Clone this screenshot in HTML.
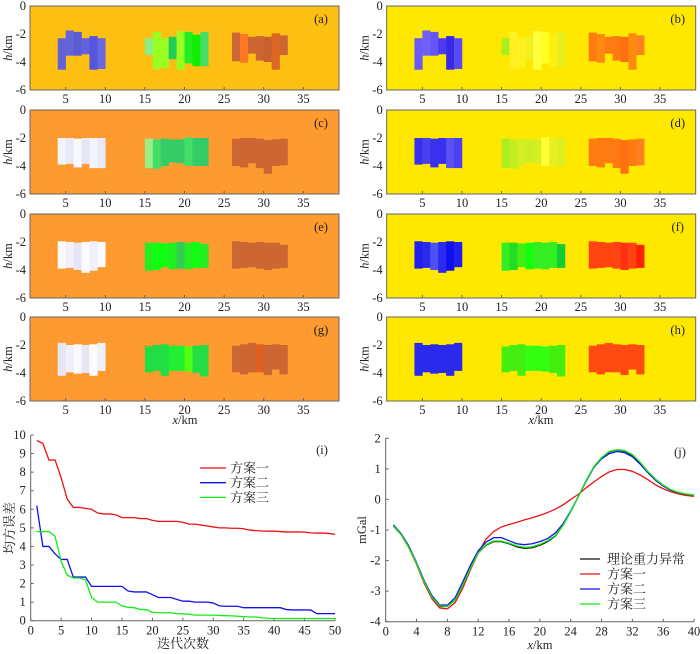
<!DOCTYPE html>
<html><head><meta charset="utf-8"><style>
html,body{margin:0;padding:0;background:#fff}
svg{display:block}
text{font-family:"Liberation Serif","Noto Serif CJK SC",serif;font-size:12.5px;fill:#222}
</style></head><body>
<svg id="fig" width="700" height="654" viewBox="0 0 700 654" xmlns="http://www.w3.org/2000/svg"></svg>
<script>
// ---------- data ----------
const colEdgesG1 = [4,5,6,7,8,9,10];
const colEdgesG2 = [15,16,17,18,19,20,21,22,23];
const colEdgesG3 = [26,27,28,29,30,31,32,33];
const topsAB = [2.3,1.75,1.85,2.3,2.15,2.3, 2.3,1.85,2.3,2.2,1.8,1.85,2.05,1.85, 1.9,2.0,2.2,2.15,2.2,1.95,2.1];
const botsAB = [4.55,3.55,3.55,3.45,4.55,4.5, 3.5,4.5,4.4,3.8,4.55,4.1,4.3,4.3, 3.95,4.05,3.4,3.9,4.0,4.55,3.5];
const topsCD = [2.0,2.0,2.05,2.0,2.0,2.0, 2.05,2.1,2.05,2.1,2.1,1.95,2.0,2.0, 2.05,2.0,2.0,2.05,2.15,2.1,2.05];
const botsCD = [3.9,3.85,4.1,3.85,4.15,4.15, 4.15,4.2,4.0,3.75,3.8,4.0,4.0,4.0, 4.0,4.1,3.8,4.15,4.55,4.0,3.95];
const topsEF = [1.95,2.0,2.05,2.0,1.95,2.0, 2.05,2.05,2.1,2.05,2.0,2.05,2.0,2.15, 1.95,2.0,2.05,2.0,2.05,2.05,2.2];
const botsEF = [3.9,3.85,4.0,4.2,4.05,3.8, 4.05,4.0,3.8,3.95,3.9,3.95,3.85,3.85, 3.9,3.85,3.8,3.9,4.0,3.9,3.85];
const topsGH = [1.85,2.0,1.95,2.0,1.95,1.85, 2.1,2.0,1.95,2.05,2.05,2.1,2.05,2.0, 2.05,1.95,1.85,1.95,2.0,1.95,2.0];
const botsGH = [4.2,3.95,4.05,4.0,4.2,3.85, 3.95,3.85,4.2,3.85,3.85,3.9,4.0,4.25, 3.95,4.1,3.95,3.95,4.15,3.75,4.1];
const bgA = "#fdbf12", bgY = "#ffe800", bgO = "#fd9a30";
const colA = ["#6262d6","#6464d8","#5c5cd2","#6262dc","#5555de","#6868e0","#88ee88","#99ff22","#99ff22","#22cc55","#99ff22","#22ee22","#11ee00","#44dd66","#cc6633","#ff7722","#cc6633","#cc6633","#c86030","#dd6622","#cc6633"];
const colB = ["#6a5af8","#7060f8","#6655f5","#4a3af0","#3a2ae8","#5a4af5","#aaee22","#fff020","#fff020","#f2f020","#ffff40","#ffff20","#fff010","#e8ee20","#ff7a10","#ff8a10","#ff7a10","#ff7a10","#ff7010","#ff8a10","#ff8020"];
const colC = ["#f4f4fc","#e8e8f8","#f8f8ff","#e6e6f4","#f4f4fc","#e8e8f8","#99ee88","#44dd66","#33cc66","#33cc66","#33cc66","#44dd66","#33cc66","#33cc66","#cc6633","#cc6633","#cc6633","#cc6633","#cc6633","#cc6633","#cc6633"];
const colD = ["#3a30f0","#4a40f2","#3a30f0","#3a30f0","#5a50f5","#4a40f2","#aaee22","#c4ee22","#d4ee22","#ccee22","#d4ee22","#ffff33","#e8ee22","#dcee22","#ff7a10","#ff7a10","#ff7a10","#ff7a10","#ff7010","#ff7a10","#ff8020"];
const colE = ["#fafaff","#f0f0fa","#e6e6f4","#fafaff","#f0f0fa","#fafaff","#22ee22","#11ff11","#11ff11","#22ee22","#33cc55","#22ee22","#11ff11","#22ee22","#cc6633","#cc6633","#cc6633","#cc6633","#cc6633","#cc6633","#cc6633"];
const colF = ["#2020ee","#2a2aee","#5050f8","#2a2af0","#1010ee","#2020ee","#33ee22","#22dd22","#44ee11","#11ff11","#33ee22","#33ee22","#33ee22","#11cc33","#ff4411","#ff4411","#ff4411","#ff4411","#ff3311","#ff4411","#ff2200"];
const colG = ["#e6e6f4","#f0f0fa","#fafaff","#e6e6f4","#fafaff","#f0f0fa","#22dd44","#22dd44","#22dd44","#22ee33","#22ee33","#55ff11","#22dd44","#22dd44","#cc6633","#cc6633","#cc6633","#e06020","#cc6633","#cc6633","#cc6633"];
const colH = ["#2a2aee","#2a2aee","#2a2aee","#2a2aee","#2a2aee","#2a2aee","#44ee11","#44ee11","#44ee11","#33ff11","#33ff11","#33ff11","#44ee11","#44ee11","#ff4a10","#ff4a10","#ff4a10","#ff4a10","#ff4a10","#ff4a10","#ff4a10"];
const secTicks = [5,10,15,20,25,30,35];
const depthTicks = [0,-2,-4,-6];
const iterX = Array.from({length:50},(_,i)=>i+1);
const misfit1 = [9.7,9.55,8.65,8.65,7.7,6.55,6.1,6.1,6.05,6.0,5.8,5.75,5.75,5.7,5.55,5.55,5.55,5.5,5.5,5.4,5.35,5.35,5.35,5.35,5.3,5.2,5.2,5.15,5.1,5.05,5.0,5.0,4.98,4.98,4.95,4.88,4.85,4.83,4.82,4.82,4.8,4.78,4.78,4.78,4.77,4.73,4.72,4.72,4.7,4.65];
const misfit2 = [6.2,4.0,4.0,3.6,3.3,3.3,2.35,2.35,2.35,1.85,1.85,1.85,1.85,1.85,1.85,1.6,1.55,1.55,1.55,1.4,1.25,1.25,1.25,1.15,1.05,1.05,1.0,1.0,1.0,0.95,0.8,0.78,0.78,0.78,0.7,0.7,0.7,0.7,0.7,0.7,0.7,0.6,0.58,0.58,0.58,0.58,0.38,0.38,0.38,0.38];
const misfit3 = [4.8,4.8,4.8,4.55,3.2,2.45,2.3,2.3,2.2,1.25,1.0,1.0,1.0,1.0,0.8,0.72,0.7,0.6,0.6,0.45,0.43,0.43,0.43,0.38,0.37,0.35,0.3,0.3,0.3,0.3,0.28,0.27,0.26,0.24,0.22,0.2,0.2,0.15,0.13,0.12,0.12,0.12,0.12,0.12,0.12,0.12,0.12,0.12,0.12,0.12];
const iterTicksX = [0,5,10,15,20,25,30,35,40,45,50];
const iterTicksY = [0,1,2,3,4,5,6,7,8,9,10];
const profX = Array.from({length:40},(_,i)=>i+1);
const gTrue = [-0.85,-1.15,-1.55,-2.1,-2.7,-3.2,-3.5,-3.5,-3.3,-2.8,-2.25,-1.75,-1.5,-1.38,-1.38,-1.45,-1.55,-1.6,-1.58,-1.5,-1.38,-1.2,-0.85,-0.4,0.1,0.6,1.05,1.35,1.55,1.62,1.58,1.45,1.2,0.9,0.65,0.45,0.3,0.22,0.17,0.13];
const g1 = [-0.88,-1.15,-1.58,-2.12,-2.75,-3.25,-3.55,-3.58,-3.38,-2.9,-2.3,-1.75,-1.3,-1.05,-0.9,-0.82,-0.75,-0.67,-0.6,-0.52,-0.43,-0.32,-0.18,0.0,0.17,0.38,0.57,0.75,0.9,0.98,0.98,0.92,0.8,0.65,0.48,0.35,0.25,0.18,0.13,0.1];
const g2 = [-0.83,-1.12,-1.52,-2.07,-2.66,-3.15,-3.45,-3.46,-3.22,-2.7,-2.15,-1.68,-1.4,-1.25,-1.25,-1.35,-1.45,-1.48,-1.45,-1.38,-1.28,-1.1,-0.8,-0.38,0.1,0.6,1.05,1.33,1.5,1.57,1.53,1.4,1.16,0.88,0.63,0.44,0.3,0.22,0.17,0.14];
const g3 = [-0.86,-1.15,-1.56,-2.1,-2.7,-3.2,-3.48,-3.5,-3.3,-2.8,-2.25,-1.75,-1.48,-1.36,-1.36,-1.43,-1.52,-1.57,-1.55,-1.47,-1.35,-1.18,-0.85,-0.4,0.1,0.62,1.07,1.37,1.57,1.63,1.6,1.47,1.22,0.92,0.67,0.47,0.32,0.23,0.18,0.14];
const profTicksX = [0,4,8,12,16,20,24,28,32,36,40];
const profTicksY = [2,1,0,-1,-2,-3,-4];

// ---------- drawing ----------
const svg = document.getElementById('fig');
const NS = "http://www.w3.org/2000/svg";
function mk(tag, attrs, parent){const e=document.createElementNS(NS,tag);for(const k in attrs)e.setAttribute(k,attrs[k]);(parent||svg).appendChild(e);return e;}
function txt(x,y,s,anchor,parent,extra){const t=mk('text',Object.assign({x:x,y:y,'text-anchor':anchor||'middle'},extra||{}),parent);t.textContent=s;return t;}

const edges = [colEdgesG1, colEdgesG2, colEdgesG3];
const panels = [
 {id:'a',L:30,T:6,bg:bgA,tops:topsAB,bots:botsAB,cols:colA},
 {id:'b',L:386.7,T:6,bg:bgY,tops:topsAB,bots:botsAB,cols:colB},
 {id:'c',L:30,T:110,bg:bgO,tops:topsCD,bots:botsCD,cols:colC},
 {id:'d',L:386.7,T:110,bg:bgY,tops:topsCD,bots:botsCD,cols:colD},
 {id:'e',L:30,T:214,bg:bgO,tops:topsEF,bots:botsEF,cols:colE},
 {id:'f',L:386.7,T:214,bg:bgY,tops:topsEF,bots:botsEF,cols:colF},
 {id:'g',L:30,T:317,bg:bgO,tops:topsGH,bots:botsGH,cols:colG},
 {id:'h',L:386.7,T:317,bg:bgY,tops:topsGH,bots:botsGH,cols:colH}
];
const PW=309, PH=84, XMIN=0.5, XMAX=39.5;
panels.forEach(p=>{
  const g = mk('g',{});
  
  
  const sx = v => p.L + (v-XMIN)/(XMAX-XMIN)*PW;
  const sy = d => p.T + (d/6)*PH;
  mk('rect',{x:p.L,y:p.T,width:PW,height:PH,fill:p.bg},g);
  let k=0;
  edges.forEach(ed=>{
    for(let i=0;i<ed.length-1;i++){
      const r = mk('rect',{x:sx(ed[i]),y:sy(p.tops[k]),width:sx(ed[i+1])-sx(ed[i])+0.3,height:sy(p.bots[k])-sy(p.tops[k]),fill:p.cols[k]},g);
      
      
      k++;
    }
  });
  mk('rect',{x:p.L,y:p.T,width:PW,height:PH,fill:'none',stroke:'#666','stroke-width':1},g);
  secTicks.forEach(t=>{
    mk('line',{x1:sx(t),x2:sx(t),y1:p.T+PH,y2:p.T+PH-3,stroke:'#666'},g);
    const l=txt(sx(t),p.T+PH+13,String(t),'middle',g);
    
    
  });
  depthTicks.forEach(t=>{
    const l=txt(p.L-4,sy(-t)+4,String(t),'end',g);
    
    
  });
  const yl = txt(0,0,'','middle',g,{transform:`translate(${p.L-18},${p.T+PH/2}) rotate(-90)`});
  yl.innerHTML = '<tspan font-style="italic">h</tspan>/km';
  
  
  const pl = txt(p.L+PW-18,p.T+17,'('+p.id+')','middle',g);
  
  
});
[185,541].forEach(cx=>{
  const t=txt(cx,424,'','middle');
  t.innerHTML='<tspan font-style="italic">x</tspan>/km';
  
  
});

// panel i
(function(){
  const L=30.7,R=335,T=435,B=620.7;
  const g = mk('g',{});
  
  
  const sx=v=>L+v/50*(R-L), sy=v=>B-v/10*(B-T);
  mk('line',{x1:L,y1:T,x2:L,y2:B,stroke:'#666'},g);
  mk('line',{x1:L,y1:B,x2:R,y2:B,stroke:'#666'},g);
  iterTicksX.forEach(t=>{mk('line',{x1:sx(t),x2:sx(t),y1:B,y2:B-3,stroke:'#666'},g);txt(sx(t),B+14,String(t),'middle',g);});
  iterTicksY.forEach(t=>{mk('line',{x1:L,x2:L+3,y1:sy(t),y2:sy(t),stroke:'#666'},g);txt(L-5,sy(t)+4,String(t),'end',g);});
  const series=[[misfit1,'#ee1111','方案一'],[misfit2,'#1111ee','方案二'],[misfit3,'#11ee11','方案三']];
  series.forEach((s,si)=>{
    const pl=mk('polyline',{points:iterX.map((x,i)=>sx(x)+','+sy(s[0][i])).join(' '),fill:'none',stroke:s[1],'stroke-width':1.3},g);
    
    
    const y=468+si*14.7;
    mk('line',{x1:200,x2:226,y1:y,y2:y,stroke:s[1],'stroke-width':1.3},g);
    const lt=txt(230,y+4.5,s[2],'start',g,{style:'font-size:13px'});
    
    
  });
  txt(322,454,'(i)','middle',g);
  const yt=txt(0,0,'均方误差','middle',g,{transform:`translate(14,528) rotate(-90)`,style:'font-size:13px'});
  
  
  const xt=txt(183,648,'迭代次数','middle',g,{style:'font-size:13px'});
  
  
})();

// panel j
(function(){
  const L=385.7,R=694,T=438.3,B=621.7;
  const g = mk('g',{});
  
  
  const sx=v=>L+v/40*(R-L), sy=v=>T+(2-v)/6*(B-T);
  mk('line',{x1:L,y1:T,x2:L,y2:B,stroke:'#666'},g);
  mk('line',{x1:L,y1:B,x2:R,y2:B,stroke:'#666'},g);
  profTicksX.forEach(t=>{mk('line',{x1:sx(t),x2:sx(t),y1:B,y2:B-3,stroke:'#666'},g);txt(sx(t),B+14,String(t),'middle',g);});
  profTicksY.forEach(t=>{mk('line',{x1:L,x2:L+3,y1:sy(t),y2:sy(t),stroke:'#666'},g);txt(L-5,sy(t)+4,String(t),'end',g);});
  const series=[[gTrue,'#111111','理论重力异常'],[g1,'#ee1111','方案一'],[g2,'#1111ee','方案二'],[g3,'#11ee11','方案三']];
  series.forEach((s,si)=>{
    const pl=mk('polyline',{points:profX.map((x,i)=>sx(x)+','+sy(s[0][i])).join(' '),fill:'none',stroke:s[1],'stroke-width':1.3,'stroke-linejoin':'round'},g);
    
    
    const y=559+si*15;
    mk('line',{x1:580,x2:600,y1:y,y2:y,stroke:s[1],'stroke-width':1.3},g);
    const lt=txt(607,y+4.5,s[2],'start',g,{style:'font-size:13px'});
    
    
  });
  txt(680,456,'(j)','middle',g);
  const yt=txt(0,0,'mGal','middle',g,{transform:`translate(366,530) rotate(-90)`});
  
  
  const xt=txt(540,649,'','middle',g);
  xt.innerHTML='<tspan font-style="italic">x</tspan>/km';
  
  
})();
</script>
</body></html>
